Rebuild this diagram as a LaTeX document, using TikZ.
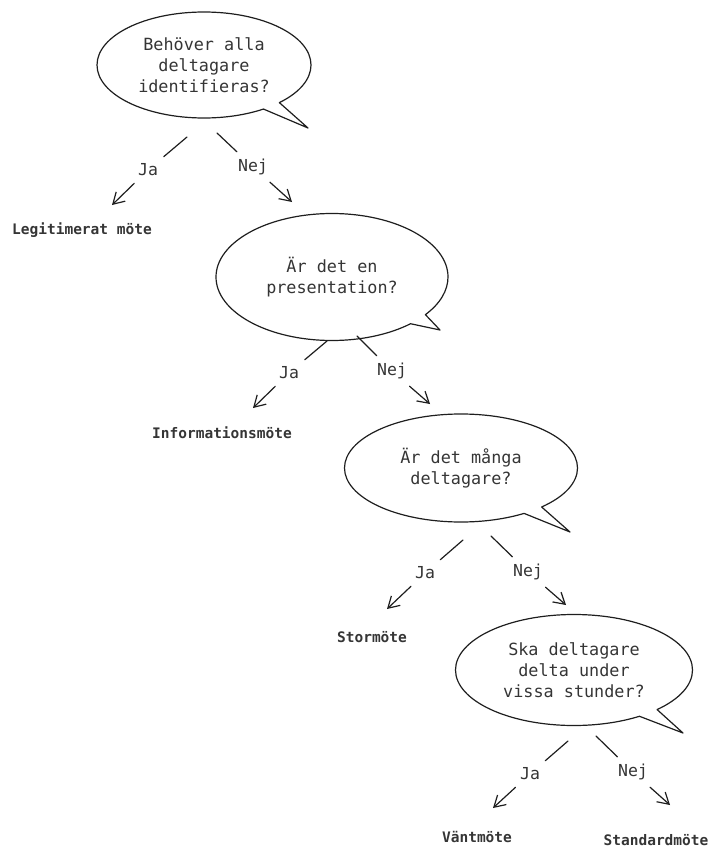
\documentclass[tikz,border=0pt]{standalone}
\usepackage{fontspec}
\setmonofont{DejaVu Sans Mono}
\usetikzlibrary{shapes.callouts,arrows.meta}
\definecolor{ink}{HTML}{1E1E1E}
\definecolor{txt}{HTML}{353535}
\begin{document}
\begin{tikzpicture}[x=1pt,y=-1pt,line join=round,line cap=round,>={Straight Barb[length=11pt,width=13pt]}]
        \tikzset{bubble/.style={ellipse callout,draw=ink,line width=1.2pt,callout pointer arc=11,
            align=center,text=txt,inner sep=0pt,font=\ttfamily\fontsize{16.8}{21}\selectfont},
          answer/.style={text=txt,inner sep=7pt,font=\ttfamily\fontsize{16.5}{20}\selectfont},
          leaf/.style={text=txt,inner sep=2pt,font=\ttfamily\bfseries\fontsize{14.5}{18}\selectfont},
          edge/.style={draw=ink,line width=1.2pt}}
        \useasboundingbox (0,0) rectangle (712,848);
        % pointers of the bubbles
        \coordinate (p1) at (308,128);
        \coordinate (p2) at (440,330);
        \coordinate (p3) at (570,532);
        \coordinate (p4) at (683,733);
        % questions
        \node[bubble,minimum width=214,minimum height=106,callout absolute pointer={(p1)}] (q1) at (204,65)
            {Behöver alla\\deltagare\\identifieras?};
        \node[bubble,minimum width=232,minimum height=127,callout absolute pointer={(p2)}] (q2) at (332,277)
            {Är det en\\presentation?};
        \node[bubble,minimum width=233,minimum height=108,callout absolute pointer={(p3)}] (q3) at (461,468)
            {Är det många\\deltagare?};
        \node[bubble,minimum width=237,minimum height=111,callout absolute pointer={(p4)}] (q4) at (574,670)
            {Ska deltagare\\delta under\\vissa stunder?};
        % answers
        \node[leaf] (l1) at (82,230) {Legitimerat möte};
        \node[leaf] (l2) at (222,433) {Informationsmöte};
        \node[leaf] (l3) at (372,637) {Stormöte};
        \node[leaf] (l4) at (477,837) {Väntmöte};
        \node[leaf] (l5) at (656,840) {Standardmöte};
        % branches: start, Ja label, Ja tip, start, Nej label, Nej tip
        \foreach \i/\sjx/\sjy/\jx/\jy/\tjx/\tjy/\snx/\sny/\nx/\ny/\tnx/\tny in
            {1/187/137/148/170/112/205/217/133/253/167/292/202,
             2/327/341/289/373/253/408/357/336/392/371/430/404,
             3/463/540/425/573/387/609/491/536/528/572/566/605,
             4/568/741/530/774/493/808/596/736/633/772/670/805}
        {
            \coordinate (sj\i) at (\sjx,\sjy);
            \coordinate (tj\i) at (\tjx,\tjy);
            \coordinate (sn\i) at (\snx,\sny);
            \coordinate (tn\i) at (\tnx,\tny);
            \node[answer] (ja\i) at (\jx,\jy) {Ja};
            \node[answer] (nej\i) at (\nx,\ny) {Nej};
            \draw[edge] (sj\i) -- (ja\i);
            \draw[edge,->] (ja\i) -- (tj\i);
            \draw[edge] (sn\i) -- (nej\i);
            \draw[edge,->] (nej\i) -- (tn\i);
        }
    \end{tikzpicture}
\end{document}
